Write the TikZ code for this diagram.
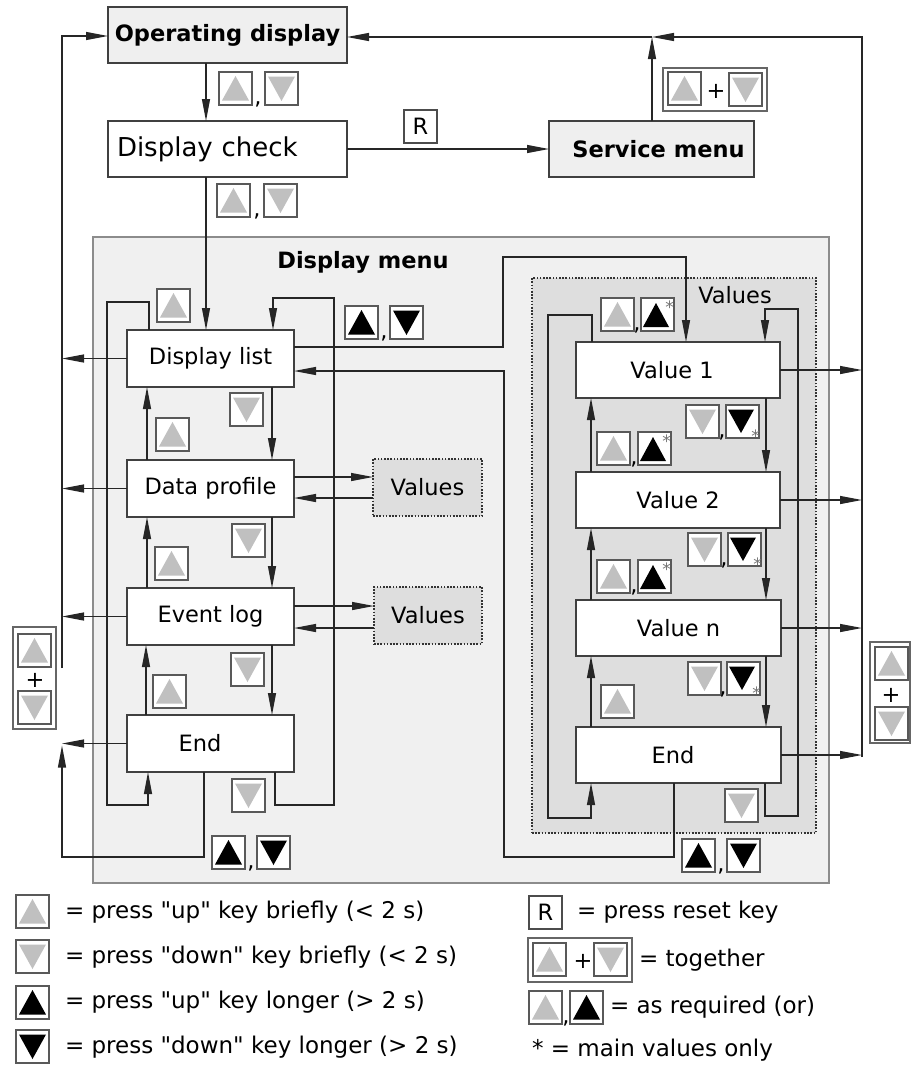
\documentclass[tikz,border=0pt]{standalone}
\usepackage{fontspec}
\setmainfont{DejaVu Sans}
\usetikzlibrary{arrows.meta,calc}
\definecolor{boxgray}{HTML}{EFEFEF}
\definecolor{menugray}{HTML}{F0F0F0}
\definecolor{valgray}{HTML}{DEDEDE}
\definecolor{keygray}{HTML}{C0C0C0}
\newcommand\fsA{\fontsize{22.5}{27}\selectfont}
\newcommand\fsB{\bfseries\fontsize{22.5}{27}\selectfont}
\newcommand\fsC{\fontsize{26}{30}\selectfont}
\newcommand\fsL{\fontsize{23}{28}\selectfont}
\newcommand\fsS{\fontsize{17}{17}\selectfont}
\newcommand\qq{\textquotedbl{}}
\tikzset{
  every node/.style={inner sep=0pt, outer sep=0pt},
  box/.style={draw=black!75, line width=1.1pt, fill=white, minimum height=56pt, anchor=north west, font=\fsA},
  dotbox/.style={draw=black!80, dash pattern=on 1.6pt off 1.6pt, line width=1.3pt},
  conn/.style={draw=black!85, line width=1.2pt},
  arr/.style={conn, -{Triangle[length=22pt,width=8pt]}},
  keyframe/.style={draw=black!65, line width=1.1pt, fill=white},
  groupframe/.style={draw=black!60, line width=1.1pt, fill=white},
  commanode/.style={font=\fsA, anchor=base},
  starnode/.style={font=\fsS, text=black!55},
  pics/kug/.style={code={\draw[keyframe] (0,0) rectangle (33,33);
     \fill[keygray] (16.5,4) -- (30,28.5) -- (3,28.5) -- cycle;}},
  pics/kdg/.style={code={\draw[keyframe] (0,0) rectangle (33,33);
     \fill[keygray] (3,4.5) -- (30,4.5) -- (16.5,29) -- cycle;}},
  pics/kub/.style={code={\draw[keyframe] (0,0) rectangle (33,33);
     \fill[black] (16.5,4) -- (30,28.5) -- (3,28.5) -- cycle;}},
  pics/kdb/.style={code={\draw[keyframe] (0,0) rectangle (33,33);
     \fill[black] (3,4.5) -- (30,4.5) -- (16.5,29) -- cycle;}},
  pics/kubs/.style={code={\draw[keyframe] (0,0) rectangle (33,33);
     \fill[black] (15,5) -- (28,29) -- (2,29) -- cycle;
     \node[starnode] at (28.5,9) {*};}},
  pics/kdbs/.style={code={\draw[keyframe] (0,0) rectangle (33,33);
     \fill[black] (2,4.5) -- (28,4.5) -- (15,28) -- cycle;
     \node[starnode] at (29.5,31) {*};}},
}
\begin{document}
\begin{tikzpicture}[x=1pt,y=-1pt]
\useasboundingbox (0,0) rectangle (911,1066);

% background areas
\node[box, draw=black!45, fill=menugray, minimum width=736pt, minimum height=646pt] (menu) at (93,237) {};
\node[box, dotbox, fill=valgray, minimum width=284pt, minimum height=555pt] (vals) at (532,278) {};
\node[font=\fsB] (menutitle) at (363,262) {Display menu};
\node[font=\fsA] (valstitle) at (735,295) {Values};

% main boxes
\node[box, fill=boxgray, font=\fsB, minimum width=239pt] (op) at (108,7) {Operating display};
\node[box, font=\fsC, minimum width=239pt, text width=221pt, align=left] (dc) at (108,121) {Display check};
\node[box, fill=boxgray, font=\fsB, minimum width=205pt] (sm) at (549,121) {\hspace*{14pt}Service menu};

\node[box, minimum width=167pt, minimum height=57pt] (dl) at (127,330) {Display list};
\node[box, minimum width=167pt, minimum height=57pt] (dp) at (127,460) {Data profile};
\node[box, minimum width=167pt, minimum height=57pt] (el) at (127,588) {Event log};
\node[box, minimum width=167pt, minimum height=57pt] (endl) at (127,715) {End\hspace*{21pt}};

\node[box, dotbox, fill=valgray, minimum width=109pt, minimum height=57pt] (va) at (373,459) {Values};
\node[box, dotbox, fill=valgray, minimum width=108pt, minimum height=57pt] (vb) at (374,587) {Values};

\node[box, minimum width=204pt] (v1) at (576,342) {Value 1\hspace*{12pt}};
\node[box, minimum width=204pt] (v2) at (576,472) {Value 2};
\node[box, minimum width=205pt] (vn) at (576,600) {Value n};
\node[box, minimum width=205pt] (endr) at (576,727) {End\hspace*{11pt}};

% named free ends
\coordinate (tj) at (652,37);
\coordinate (rtop) at (862,37);
\coordinate (rbot) at (862,757);
\coordinate (ltop) at (62,36);
\coordinate (lgap) at (62,668);
\coordinate (lb) at (62,857);

% top connectors
\draw[arr] (op.south -| 206,0) -- (dc.north -| 206,0);
\draw[arr] (dc.east) -- (sm.west);
\draw[arr] (sm.north -| tj) -- (tj);
\draw[arr] (rbot) -- (rtop) -- (tj);
\draw[arr] (tj) -- (op.east |- tj);
\draw[arr] (dc.south -| 206,0) -- (dl.north -| 206,0);

% left outer column
\draw[arr] (lgap) -- (ltop) -- (op.west |- ltop);
\draw[arr] (dl.west) -- (dl.west -| ltop);
\draw[arr] (dp.west) -- (dp.west -| ltop);
\draw[arr] (el.west) -- (el.west -| ltop);
\draw[arr] (endl.west) -- (endl.west -| ltop);
\draw[arr] (endl.south -| 204,0) -- (204,0 |- lb) -- (lb) -- ([yshift=-2pt]lb |- endl.west);

% left inner loops
\draw[arr] (dl.north -| 149,0) -- (149,302) -- (107,302) -- (107,805) -- (148,805) -- (endl.south -| 148,0);
\draw[arr] (endl.south -| 275,0) -- (275,805) -- (334,805) -- (334,298) -- (273,298) -- (dl.north -| 273,0);
\draw[arr] (dl.south -| 272,0) -- (dp.north -| 272,0);
\draw[arr] (dp.south -| 272,0) -- (el.north -| 272,0);
\draw[arr] (el.south -| 272,0) -- (endl.north -| 272,0);
\draw[arr] (dp.north -| 147,0) -- (dl.south -| 147,0);
\draw[arr] (el.north -| 147,0) -- (dp.south -| 147,0);
\draw[arr] (endl.north -| 146,0) -- (el.south -| 146,0);

% values side boxes
\draw[arr] (dp.east |- 0,477) -- (va.west |- 0,477);
\draw[arr] (va.west |- 0,498) -- (dp.east |- 0,498);
\draw[arr] (el.east |- 0,606) -- (vb.west |- 0,606);
\draw[arr] (vb.west |- 0,628) -- (el.east |- 0,628);

% display list <-> values list
\draw[arr] (dl.east |- 0,347) -- (503,347) -- (503,257) -- (686,257) -- (v1.north -| 686,0);
\draw[arr] (endr.south -| 674,0) -- (674,857) -- (504,857) -- (504,371) -- (dl.east |- 0,371);

% right inner loops
\draw[arr] (v1.north -| 592,0) -- (592,315) -- (548,315) -- (548,818) -- (591,818) -- (endr.south -| 591,0);
\draw[arr] (endr.south -| 765,0) -- (765,816) -- (798,816) -- (798,309) -- (765,309) -- (v1.north -| 765,0);
\draw[arr] (v1.south -| 766,0) -- (v2.north -| 766,0);
\draw[arr] (v2.south -| 766,0) -- (vn.north -| 766,0);
\draw[arr] (vn.south -| 766,0) -- (endr.north -| 766,0);
\draw[arr] (v2.north -| 591,0) -- (v1.south -| 591,0);
\draw[arr] (vn.north -| 591,0) -- (v2.south -| 591,0);
\draw[arr] (endr.north -| 591,0) -- (vn.south -| 591,0);

% right outputs
\draw[arr] (v1.east) -- (v1.east -| rtop);
\draw[arr] (v2.east) -- (v2.east -| rtop);
\draw[arr] (vn.east) -- (vn.east -| rtop);
\draw[arr] (endr.east) -- (endr.east -| rtop);

% keys top
\pic at (219,72) {kug}; \pic at (265,72) {kdg}; \node[commanode] at (258,104) {,};
\pic at (217,184) {kug}; \pic at (264,184) {kdg}; \node[commanode] at (257,216) {,};
\node[draw=black!70, line width=1.1pt, fill=white, minimum width=33pt, minimum height=33pt, anchor=north west, font=\fsA] (rkey) at (404,110) {R};
\draw[groupframe] (663,68) rectangle (767,111);
\pic at (668,72) {kug}; \node[font=\fsA] at (716,91) {+}; \pic at (729,73) {kdg};

% keys left column
\pic at (157,289) {kug};
\pic at (345,306) {kub}; \pic at (390,306) {kdb}; \node[commanode] at (384,338) {,};
\pic at (230,393) {kdg};
\pic at (156,418) {kug};
\pic at (232,524) {kdg};
\pic at (155,547) {kug};
\pic at (231,653) {kdg};
\pic at (153,675) {kug};
\pic at (232,779) {kdg};
\pic at (212,836) {kub}; \pic at (257,836) {kdb}; \node[commanode] at (251,868) {,};
\draw[groupframe] (13,627) rectangle (56,729);
\pic at (18,634) {kug}; \node[font=\fsA] at (35,680) {+}; \pic at (18,691) {kdg};

% keys right column
\pic at (601,298) {kug}; \pic at (641,298) {kubs}; \node[commanode] at (637,330) {,};
\pic at (686,405) {kdg}; \pic at (726,405) {kdbs}; \node[commanode] at (722,437) {,};
\pic at (597,432) {kug}; \pic at (638,432) {kubs}; \node[commanode] at (634,464) {,};
\pic at (688,533) {kdg}; \pic at (728,533) {kdbs}; \node[commanode] at (724,565) {,};
\pic at (597,560) {kug}; \pic at (638,560) {kubs}; \node[commanode] at (634,592) {,};
\pic at (688,662) {kdg}; \pic at (727,662) {kdbs}; \node[commanode] at (723,694) {,};
\pic at (601,685) {kug};
\pic at (725,789) {kdg};
\pic at (682,839) {kub}; \pic at (727,839) {kdb}; \node[commanode] at (721,871) {,};
\draw[groupframe] (870,642) rectangle (910,743);
\pic at (875,647) {kug}; \node[font=\fsA] at (891,695) {+}; \pic at (875,707) {kdg};

% legend
\pic at (16,895) {kug}; \node[anchor=west, font=\fsL] (lg1) at (65,912) {= press \qq up\qq\ key briefly (< 2 s)};
\pic at (16,940) {kdg}; \node[anchor=west, font=\fsL] (lg2) at (65,957) {= press \qq down\qq\ key briefly (< 2 s)};
\pic at (16,986) {kub}; \node[anchor=west, font=\fsL] (lg3) at (65,1002) {= press \qq up\qq\ key longer (> 2 s)};
\pic at (16,1030) {kdb}; \node[anchor=west, font=\fsL] (lg4) at (65,1047) {= press \qq down\qq\ key longer (> 2 s)};

\node[draw=black!70, line width=1.1pt, fill=white, minimum width=33pt, minimum height=33pt, anchor=north west, font=\fsA] (lgr) at (529,896) {R};
\node[anchor=west, font=\fsL] (lg5) at (577,912) {= press reset key};
\draw[groupframe] (528,938) rectangle (632,982);
\pic at (533,943) {kug}; \node[font=\fsA] at (583,961) {+}; \pic at (594,943) {kdg};
\node[anchor=west, font=\fsL] (lg6) at (639,960) {= together};
\pic at (529,991) {kug}; \node[commanode] at (566,1023) {,}; \pic at (570,991) {kub};
\node[anchor=west, font=\fsL] (lg7) at (610,1007) {= as required (or)};
\node[anchor=west, font=\fsL] (lg8) at (532,1050) {* = main values only};
\end{tikzpicture}
\end{document}
